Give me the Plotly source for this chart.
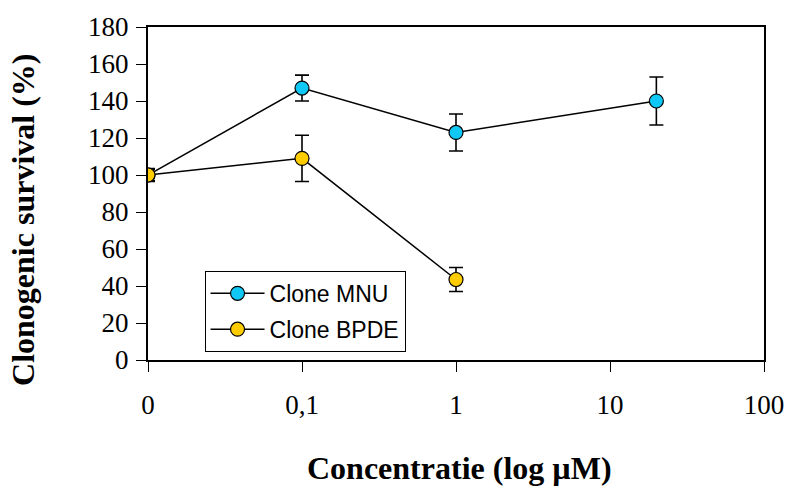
import plotly.graph_objects as go

# Concentration positions on the log axis (0.01 stands for the "0" control)
tick_vals = [0.01, 0.1, 1, 10, 100]
tick_text = ["0", "0,1", "1", "10", "100"]

mnu_x = [0.01, 0.1, 1, 20]
mnu_y = [100, 147, 123, 140]
mnu_err = [3, 7, 10, 13]

bpde_x = [0.01, 0.1, 1]
bpde_y = [100, 109, 43.5]
bpde_err = [3.5, 12.5, 6.5]

W, H = 796, 499
L, R, T, B = 148, 27, 20, 139

serif = "Times New Roman, Liberation Serif, serif"
sans = "Arial, Liberation Sans, sans-serif"

fig = go.Figure()
fig.add_trace(go.Scatter(
    x=mnu_x, y=mnu_y, name="Clone MNU", mode="lines+markers", legendgroup="a",
    line=dict(color="black", width=1.5),
    marker=dict(symbol="circle", size=14, color="#10C8F5", line=dict(color="black", width=1.2)),
    error_y=dict(type="data", array=mnu_err, visible=True, color="black", thickness=1.6, width=7),
))
fig.add_trace(go.Scatter(
    x=bpde_x, y=bpde_y, name="Clone BPDE", mode="lines+markers", legendgroup="b",
    line=dict(color="black", width=1.5),
    marker=dict(symbol="circle", size=14, color="#FFCC00", line=dict(color="black", width=1.2)),
    error_y=dict(type="data", array=bpde_err, visible=True, color="black", thickness=1.6, width=7),
))

fig.update_layout(
    width=W, height=H,
    margin=dict(l=L, r=R, t=T, b=B, pad=0),
    paper_bgcolor="white", plot_bgcolor="white",
    showlegend=True,
    legend=dict(
        x=(205 - L) / (W - L - R), y=(360 - 269) / (H - T - B),
        xanchor="left", yanchor="top",
        bordercolor="black", borderwidth=1, bgcolor="white",
        font=dict(family=sans, size=23, color="black"),
        tracegroupgap=3,
        itemwidth=54,
        entrywidth=162,
    ),
    xaxis=dict(
        type="log", range=[-2, 2],
        tickmode="array", tickvals=tick_vals, ticktext=tick_text,
        showgrid=False, zeroline=False,
        showline=True, linecolor="black", linewidth=2, mirror=True,
        ticks="outside", ticklen=10, tickwidth=1.3, tickcolor="black",
        ticklabelstandoff=10,
        tickfont=dict(family=serif, size=27, color="black"),
    ),
    yaxis=dict(
        range=[0, 180], dtick=20, tick0=0,
        showgrid=False, zeroline=False,
        showline=True, linecolor="black", linewidth=2, mirror=True,
        ticks="outside", ticklen=10, tickwidth=1.3, tickcolor="black",
        ticklabelstandoff=2,
        tickfont=dict(family=serif, size=27, color="black"),
    ),
)

fig.add_annotation(
    text="<b>Clonogenic survival (%)</b>", textangle=-90,
    xref="paper", yref="paper",
    x=(22 - L) / (W - L - R), y=(H - B - 217) / (H - T - B),
    xanchor="center", yanchor="middle", showarrow=False,
    font=dict(family=serif, size=32, color="black"),
)
fig.add_annotation(
    text="<b>Concentratie (log µM)</b>",
    xref="paper", yref="paper",
    x=(462 - L) / (W - L - R), y=(H - B - 470) / (H - T - B),
    xanchor="center", yanchor="middle", showarrow=False,
    font=dict(family=serif, size=32, color="black"),
)

fig.write_html("out.html", config={"displayModeBar": False},
               post_script="document.body.style.margin='0';")
